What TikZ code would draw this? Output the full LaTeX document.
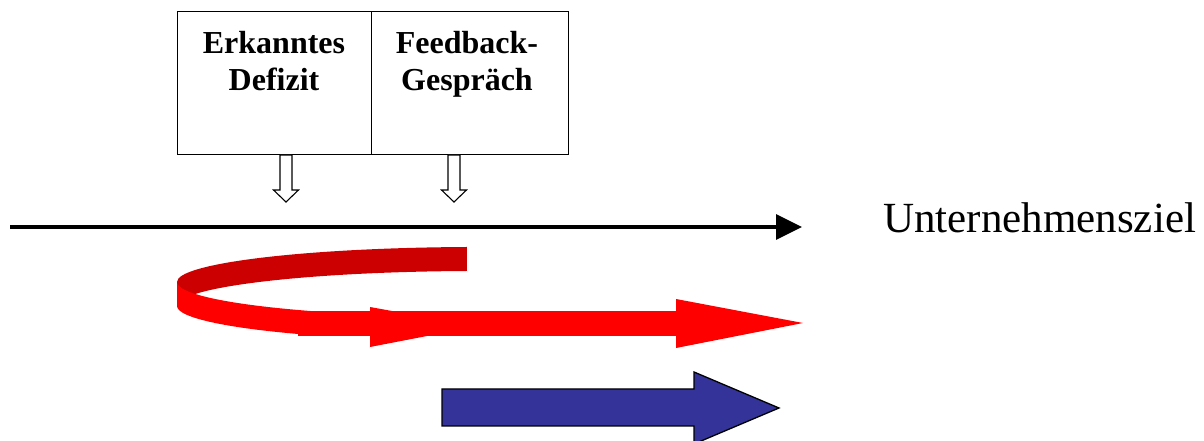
\documentclass[tikz,border=0pt]{standalone}
\usepackage{fontspec}
\setmainfont{Liberation Serif}
\usetikzlibrary{arrows.meta}
\definecolor{rred}{HTML}{FF0000}
\definecolor{dred}{HTML}{CC0000}
\definecolor{bblue}{HTML}{333399}
\begin{document}
\begin{tikzpicture}[x=1pt,y=1pt,
  cell/.style={draw, line width=1.3pt, minimum height=143pt, inner sep=0pt, anchor=south west},
  celltext/.style={font=\fontsize{32}{37}\selectfont\bfseries, align=center, inner sep=0pt, anchor=north},
  hollow/.style={draw, fill=white, line width=1.1pt, line join=miter},
  goaltext/.style={font=\fontsize{43}{50}\selectfont, anchor=base west, inner sep=0pt},
  axis/.style={line width=3.3pt, -{Triangle[length=26pt,width=25pt]}},
  blockarrow/.style={draw, fill=bblue, line width=1.3pt, line join=miter}]
\useasboundingbox (0,0) rectangle (1204,441);
% box
\node[cell, minimum width=194pt] (cellL) at (177,286) {};
\node[cell, minimum width=197pt] (cellR) at (371,286) {};
\node[celltext] (textL) at (274,410) {Erkanntes\\Defizit};
\node[celltext] (textR) at (467,410) {Feedback-\\Gespräch};
% hollow arrows
\draw[hollow] (280,286) -- (280,251) -- (273.5,251) -- (286,239) -- (298.5,251) -- (292,251) -- (292,286) -- cycle;
\draw[hollow] (448,286) -- (448,251) -- (441.5,251) -- (454,239) -- (466.5,251) -- (460,251) -- (460,286) -- cycle;
% main axis
\node[goaltext] (goal) at (883,208) {Unternehmensziel};
\coordinate (start) at (10,214);
\draw[axis] (start) -- ([xshift=-81pt]goal.west |- start);
% red curl: back band
\fill[dred] (466.8,194) arc[start angle=92.5,end angle=180,x radius=303,y radius=35]
  -- ++(0,-24) arc[start angle=180,end angle=92.5,x radius=303,y radius=35] -- cycle;
% front band
\fill[rred] (177,159) arc[start angle=180,end angle=238,x radius=303,y radius=35]
  -- ++(0,-24) arc[start angle=238,end angle=180,x radius=303,y radius=35] -- cycle;
% shaft and heads
\fill[rred] (298,105) rectangle (676,130);
\fill[rred] (370,134) -- (392,130) -- (427,105) -- (370,94) -- cycle;
\fill[rred] (676,142) -- (803,118) -- (676,93) -- cycle;
% blue arrow
\draw[blockarrow] (442,52) -- (694,52) -- (694,69) -- (779,33) -- (694,-3) -- (694,15) -- (442,15) -- cycle;
\end{tikzpicture}
\end{document}
